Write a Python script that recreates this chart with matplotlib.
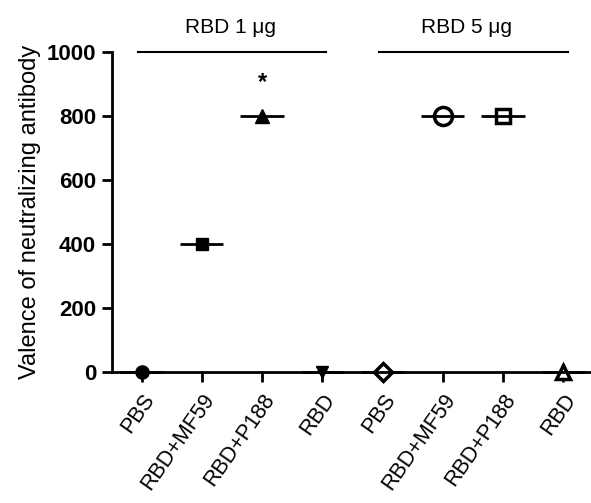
import matplotlib
matplotlib.use('Agg')
import matplotlib.pyplot as plt

plt.rcParams['font.family'] = ['Liberation Sans', 'DejaVu Sans']

# Gruppen und Werte
groups = ['PBS', 'RBD+MF59', 'RBD+P188', 'RBD', 'PBS', 'RBD+MF59', 'RBD+P188', 'RBD']
values = [0, 400, 800, 0, 0, 800, 800, 0]
markers = ['o', 's', '^', 'v', 'D', 'o', 's', '^']
filled = [True, True, True, True, False, False, False, False]
msizes = [9.5, 9, 10, 9, 9.5, 13, 10.5, 10]
dose_labels = ['RBD 1 μg', 'RBD 5 μg']
yticks = [0, 200, 400, 600, 800, 1000]

fig = plt.figure(figsize=(5.91, 5.03), dpi=100)
ax = fig.add_axes([0.1895, 0.2604, 0.8105, 0.6362])

x = list(range(len(groups)))
for i in x:
    if filled[i]:
        ax.plot(i, values[i], marker=markers[i], ms=msizes[i], color='black',
                clip_on=False, zorder=5)
    else:
        ax.plot(i, values[i], marker=markers[i], ms=msizes[i], mfc='white',
                mec='black', mew=2.5, clip_on=False, zorder=5)
    # Medianlinie
    ax.plot([i - 0.36, i + 0.36], [values[i], values[i]], color='black', lw=2,
            solid_capstyle='butt', clip_on=False, zorder=6)

# Gruppenlinien oben
ax.plot([-0.06, 3.06], [1000, 1000], color='black', lw=1.5, clip_on=False)
ax.plot([3.94, 7.08], [1000, 1000], color='black', lw=1.5, clip_on=False)
ax.text(1.47, 1078, dose_labels[0], ha='center', va='center', fontsize=15)
ax.text(5.4, 1078, dose_labels[1], ha='center', va='center', fontsize=15)
ax.text(2.0, 905, '*', ha='center', va='center', fontsize=17, fontweight='bold')

ax.set_xlim(-0.49, 7.46)
ax.set_ylim(0, 1000)
ax.set_yticks(yticks)
ax.set_yticklabels([str(v) for v in yticks], fontweight='bold', fontsize=16)
ax.set_xticks(x)
ax.set_xticklabels(groups, rotation=55, ha='right', rotation_mode='anchor', fontsize=15.5)
ax.tick_params(axis='both', width=2, length=7, direction='out')
ax.tick_params(axis='x', pad=6)
ax.tick_params(axis='y', pad=4.5)

for s in ['top', 'right']:
    ax.spines[s].set_visible(False)
for s in ['left', 'bottom']:
    ax.spines[s].set_linewidth(2)

ax.set_ylabel('Valence of neutralizing antibody', fontsize=17, labelpad=4)

fig.savefig('out.png', dpi=100)
